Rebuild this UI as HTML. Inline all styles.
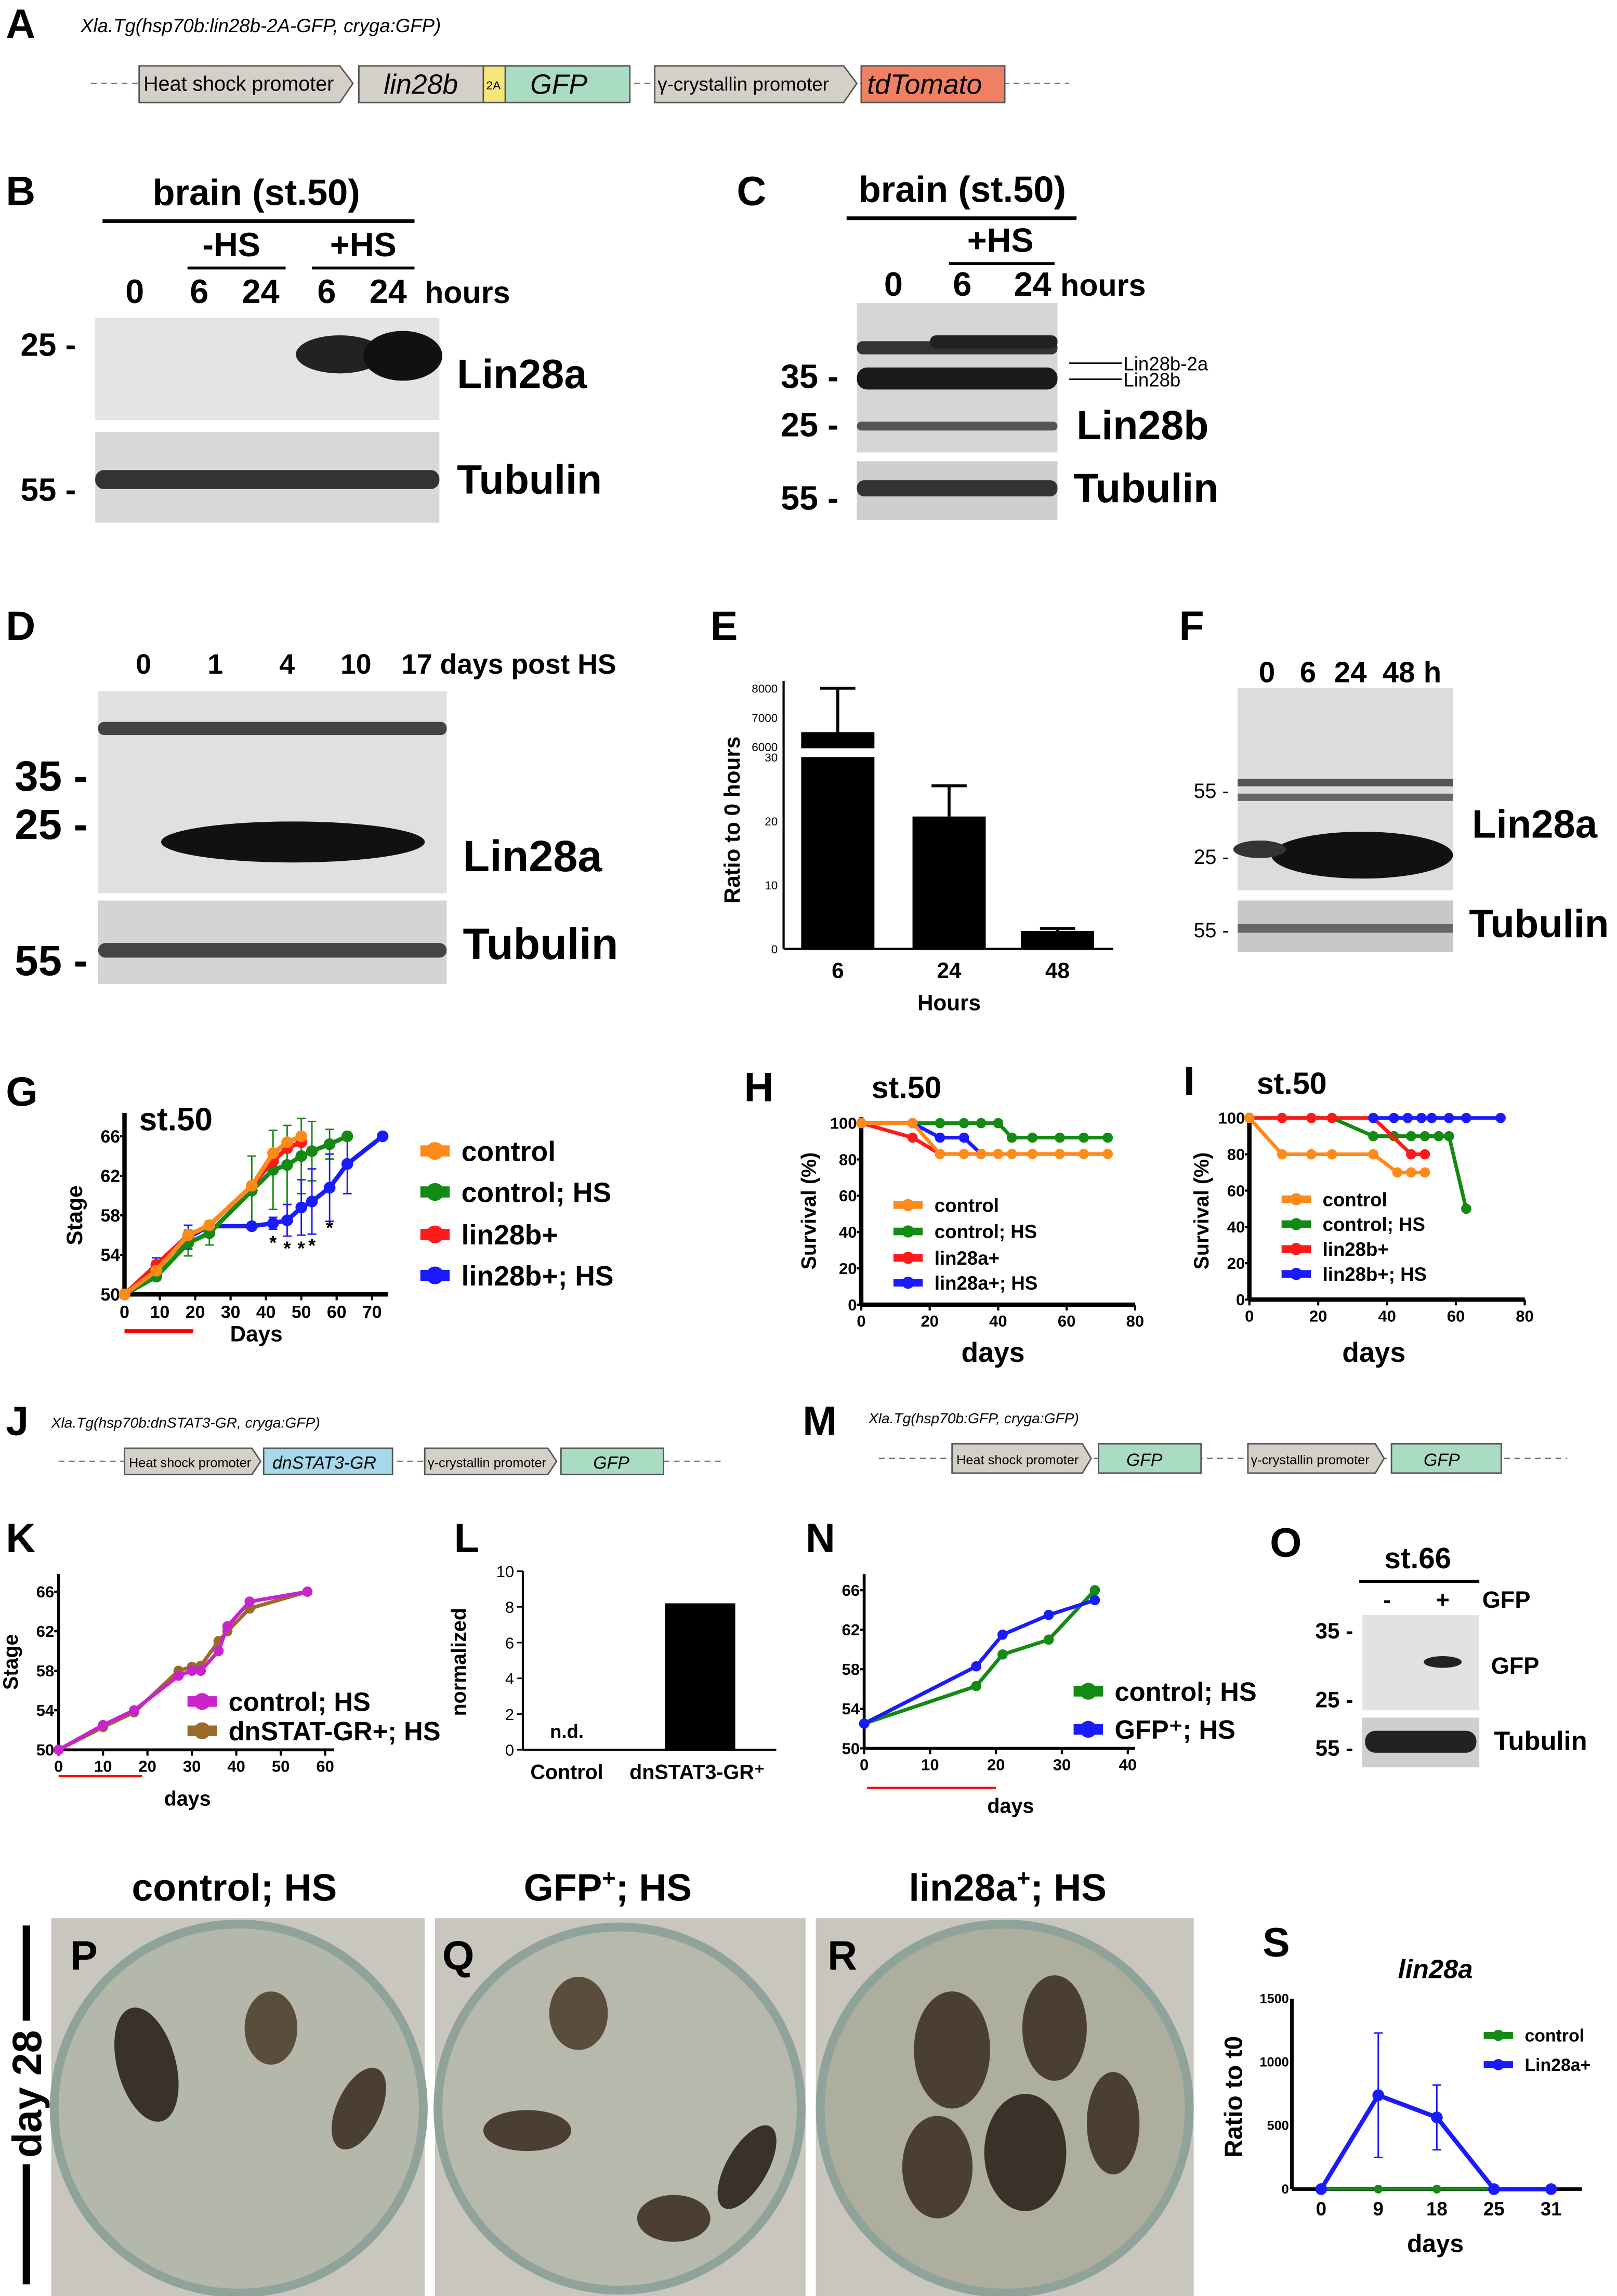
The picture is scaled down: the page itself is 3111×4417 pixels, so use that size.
<!DOCTYPE html>
<html><head><meta charset="utf-8">
<style>
html,body{margin:0;padding:0;background:#fff;}
svg{display:block;font-family:"Liberation Sans",Arial,sans-serif;}
.b{font-weight:bold;}
</style></head>
<body>
<svg id="fig" width="3111" height="4417" viewBox="0 0 1104 1568" preserveAspectRatio="none" xmlns="http://www.w3.org/2000/svg">
<g id="static">
<g class="b" font-size="28" fill="#000">
<text x="4" y="26">A</text><text x="4" y="140">B</text><text x="503" y="140">C</text>
<text x="4" y="437">D</text><text x="485" y="437">E</text><text x="805" y="437">F</text>
<text x="4" y="755">G</text><text x="508" y="752">H</text><text x="808" y="748">I</text>
<text x="4" y="980">J</text><text x="4" y="1060">K</text><text x="310" y="1060">L</text>
<text x="548" y="980">M</text><text x="550" y="1060">N</text><text x="867" y="1063">O</text>
<text x="862" y="1336">S</text>
</g>
<g>
<text x="55" y="22" font-size="13" font-style="italic">Xla.Tg(hsp70b:lin28b-2A-GFP, cryga:GFP)</text>
<line x1="62" y1="57" x2="730" y2="57" stroke="#777" stroke-dasharray="4,3"/>
<polygon points="95,45 232,45 241,57 232,70 95,70" fill="#d4d0c8" stroke="#555"/>
<text x="98" y="62" font-size="14">Heat shock promoter</text>
<rect x="245" y="45" width="85" height="25" fill="#d4d0c8" stroke="#555"/>
<text x="262" y="64" font-size="19" font-style="italic">lin28b</text>
<rect x="330" y="45" width="15" height="25" fill="#f6e67a" stroke="#555"/>
<text x="332" y="61" font-size="8">2A</text>
<rect x="345" y="45" width="85" height="25" fill="#a9dcc2" stroke="#555"/>
<text x="362" y="64" font-size="19" font-style="italic">GFP</text>
<polygon points="447,45 576,45 585,57 576,70 447,70" fill="#d4d0c8" stroke="#555"/>
<text x="449" y="62" font-size="13">γ-crystallin promoter</text>
<rect x="588" y="45" width="98" height="25" fill="#ef8064" stroke="#555"/>
<text x="592" y="64" font-size="19" font-style="italic">tdTomato</text>
</g>
<g class="b">
<text x="175" y="140" font-size="25" text-anchor="middle">brain (st.50)</text>
<line x1="70" y1="151" x2="283" y2="151" stroke="#000" stroke-width="2.5"/>
<text x="158" y="175" font-size="23" text-anchor="middle">-HS</text>
<line x1="128" y1="183" x2="195" y2="183" stroke="#000" stroke-width="2"/>
<text x="248" y="175" font-size="23" text-anchor="middle">+HS</text>
<line x1="213" y1="183" x2="283" y2="183" stroke="#000" stroke-width="2"/>
<g font-size="23" text-anchor="middle"><text x="92" y="207">0</text><text x="136" y="207">6</text><text x="178" y="207">24</text><text x="223" y="207">6</text><text x="265" y="207">24</text></g>
<text x="290" y="207" font-size="21">hours</text>
<rect x="65" y="217" width="235" height="70" fill="#e4e4e4"/>
<ellipse cx="232" cy="242" rx="30" ry="13" fill="#222"/><ellipse cx="275" cy="243" rx="27" ry="17" fill="#111"/>
<text x="14" y="243" font-size="22">25 -</text>
<text x="312" y="265" font-size="28">Lin28a</text>
<rect x="65" y="295" width="235" height="62" fill="#d8d8d8"/>
<rect x="65" y="321" width="235" height="13" rx="6" fill="#333"/>
<text x="14" y="342" font-size="22">55 -</text>
<text x="312" y="337" font-size="28">Tubulin</text>
</g>
<g class="b">
<text x="657" y="138" font-size="25" text-anchor="middle">brain (st.50)</text>
<line x1="578" y1="149" x2="735" y2="149" stroke="#000" stroke-width="2.5"/>
<text x="683" y="172" font-size="23" text-anchor="middle">+HS</text>
<line x1="648" y1="180" x2="720" y2="180" stroke="#000" stroke-width="2"/>
<g font-size="23" text-anchor="middle"><text x="610" y="202">0</text><text x="657" y="202">6</text><text x="705" y="202">24</text></g>
<text x="724" y="202" font-size="21">hours</text>
<rect x="585" y="207" width="137" height="102" fill="#d6d6d6"/>
<rect x="585" y="233" width="137" height="9" rx="4" fill="#333"/>
<rect x="635" y="229" width="87" height="9" rx="4" fill="#222"/>
<rect x="585" y="251" width="137" height="15" rx="7" fill="#1a1a1a"/>
<rect x="585" y="288" width="137" height="6" rx="3" fill="#555"/>
<text x="533" y="265" font-size="23">35 -</text><text x="533" y="298" font-size="23">25 -</text>
<line x1="730" y1="248" x2="766" y2="248" stroke="#000"/><line x1="730" y1="259" x2="766" y2="259" stroke="#000"/>
<text x="767" y="253" font-size="13" font-weight="normal">Lin28b-2a</text>
<text x="767" y="264" font-size="13" font-weight="normal">Lin28b</text>
<text x="735" y="300" font-size="28">Lin28b</text>
<rect x="585" y="315" width="137" height="40" fill="#cfcfcf"/>
<rect x="585" y="328" width="137" height="11" rx="5" fill="#333"/>
<text x="533" y="348" font-size="23">55 -</text>
<text x="733" y="343" font-size="28">Tubulin</text>
</g>
<g class="b">
<g font-size="19" text-anchor="middle"><text x="98" y="460">0</text><text x="147" y="460">1</text><text x="196" y="460">4</text><text x="243" y="460">10</text></g>
<text x="274" y="460" font-size="19">17 days post HS</text>
<rect x="67" y="472" width="238" height="138" fill="#e0e0e0"/>
<rect x="67" y="493" width="238" height="9" rx="4" fill="#444"/>
<ellipse cx="200" cy="575" rx="90" ry="14" fill="#111"/>
<text x="10" y="540" font-size="29">35 -</text><text x="10" y="573" font-size="29">25 -</text>
<text x="316" y="595" font-size="30">Lin28a</text>
<rect x="67" y="615" width="238" height="57" fill="#d4d4d4"/>
<rect x="67" y="644" width="238" height="10" rx="5" fill="#444"/>
<text x="10" y="666" font-size="29">55 -</text>
<text x="316" y="655" font-size="30">Tubulin</text>
</g>
<g class="b">
<g font-size="20" text-anchor="middle"><text x="865" y="466">0</text><text x="893" y="466">6</text><text x="922" y="466">24</text><text x="955" y="466">48</text><text x="978" y="466">h</text></g>
<rect x="845" y="470" width="147" height="138" fill="#dcdcdc"/>
<rect x="845" y="532" width="147" height="5" fill="#555"/><rect x="845" y="542" width="147" height="5" fill="#666"/>
<ellipse cx="930" cy="584" rx="62" ry="16" fill="#111"/><ellipse cx="860" cy="580" rx="18" ry="6" fill="#333"/>
<text x="815" y="545" font-size="14" font-weight="normal">55 -</text><text x="815" y="590" font-size="14" font-weight="normal">25 -</text>
<text x="1005" y="572" font-size="27">Lin28a</text>
<rect x="845" y="615" width="147" height="35" fill="#c8c8c8"/>
<rect x="845" y="631" width="147" height="6" fill="#666"/>
<text x="815" y="640" font-size="14" font-weight="normal">55 -</text>
<text x="1003" y="640" font-size="27">Tubulin</text>
</g>
<g>
<text x="35" y="975" font-size="10" font-style="italic">Xla.Tg(hsp70b:dnSTAT3-GR, cryga:GFP)</text>
<line x1="40" y1="998" x2="495" y2="998" stroke="#777" stroke-dasharray="4,3"/>
<polygon points="85,989 172,989 178,998 172,1007 85,1007" fill="#d4d0c8" stroke="#555"/>
<text x="88" y="1002" font-size="9">Heat shock promoter</text>
<rect x="180" y="989" width="88" height="18" fill="#a8d8ec" stroke="#555"/>
<text x="186" y="1003" font-size="12" font-style="italic">dnSTAT3-GR</text>
<polygon points="290,989 374,989 380,998 374,1007 290,1007" fill="#d4d0c8" stroke="#555"/>
<text x="292" y="1002" font-size="9">γ-crystallin promoter</text>
<rect x="383" y="989" width="70" height="18" fill="#a9dcc2" stroke="#555"/>
<text x="405" y="1003" font-size="12" font-style="italic">GFP</text>
</g>
<g>
<text x="593" y="972" font-size="10" font-style="italic">Xla.Tg(hsp70b:GFP, cryga:GFP)</text>
<line x1="600" y1="996" x2="1070" y2="996" stroke="#777" stroke-dasharray="4,3"/>
<polygon points="650,986 739,986 745,996 739,1006 650,1006" fill="#d4d0c8" stroke="#555"/>
<text x="653" y="1000" font-size="9">Heat shock promoter</text>
<rect x="750" y="986" width="70" height="20" fill="#a9dcc2" stroke="#555"/>
<text x="769" y="1001" font-size="12" font-style="italic">GFP</text>
<polygon points="852,986 939,986 945,996 939,1006 852,1006" fill="#d4d0c8" stroke="#555"/>
<text x="854" y="1000" font-size="9">γ-crystallin promoter</text>
<rect x="950" y="986" width="75" height="20" fill="#a9dcc2" stroke="#555"/>
<text x="972" y="1001" font-size="12" font-style="italic">GFP</text>
</g>
<g class="b">
<text x="968" y="1071" font-size="20" text-anchor="middle">st.66</text>
<line x1="928" y1="1080" x2="1010" y2="1080" stroke="#000" stroke-width="2"/>
<text x="947" y="1098" font-size="16" text-anchor="middle">-</text><text x="985" y="1098" font-size="16" text-anchor="middle">+</text>
<text x="1012" y="1098" font-size="16">GFP</text>
<rect x="930" y="1103" width="80" height="65" fill="#e2e2e2"/>
<ellipse cx="985" cy="1135" rx="13" ry="4" fill="#222"/>
<text x="898" y="1119" font-size="15">35 -</text><text x="898" y="1166" font-size="15">25 -</text>
<text x="1018" y="1143" font-size="16">GFP</text>
<rect x="930" y="1173" width="80" height="34" fill="#cfcfcf"/>
<rect x="932" y="1182" width="76" height="15" rx="7" fill="#222"/>
<text x="898" y="1199" font-size="15">55 -</text>
<text x="1020" y="1195" font-size="18">Tubulin</text>
</g>
<g class="b" font-size="26" text-anchor="middle">
<text x="160" y="1298">control; HS</text><text x="415" y="1298">GFP<tspan font-size="16" dy="-10">+</tspan><tspan dy="10">; HS</tspan></text><text x="688" y="1298">lin28a<tspan font-size="16" dy="-10">+</tspan><tspan dy="10">; HS</tspan></text>
</g>
<line x1="18" y1="1315" x2="18" y2="1380" stroke="#000" stroke-width="5"/>
<line x1="18" y1="1478" x2="18" y2="1560" stroke="#000" stroke-width="5"/>
<text transform="translate(28,1430) rotate(-90)" class="b" font-size="28" text-anchor="middle">day 28</text>
<g>
<rect x="35" y="1310" width="255" height="258" fill="#c9c7bd"/>
<circle cx="163" cy="1440" r="126" fill="#b4b8aa" stroke="#8fa39a" stroke-width="6"/>
<ellipse cx="100" cy="1410" rx="20" ry="40" fill="#3a3128" transform="rotate(-15 100 1410)"/>
<ellipse cx="185" cy="1385" rx="18" ry="25" fill="#5a4d3c"/>
<ellipse cx="245" cy="1440" rx="15" ry="30" fill="#4a3f32" transform="rotate(25 245 1440)"/>
<text x="48" y="1345" font-size="28" class="b" fill="#000">P</text>
</g>
<g>
<rect x="297" y="1310" width="253" height="258" fill="#c9c7bd"/>
<circle cx="423" cy="1440" r="124" fill="#b6b9ac" stroke="#8fa39a" stroke-width="6"/>
<ellipse cx="395" cy="1375" rx="20" ry="25" fill="#5a4d3c"/>
<ellipse cx="360" cy="1455" rx="30" ry="14" fill="#4a3f32"/>
<ellipse cx="460" cy="1515" rx="25" ry="16" fill="#4a3f32"/>
<ellipse cx="510" cy="1480" rx="14" ry="32" fill="#3a3128" transform="rotate(30 510 1480)"/>
<text x="302" y="1345" font-size="28" class="b">Q</text>
</g>
<g>
<rect x="557" y="1310" width="258" height="258" fill="#c9c7bd"/>
<circle cx="686" cy="1440" r="126" fill="#aeae9e" stroke="#8fa39a" stroke-width="6"/>
<ellipse cx="650" cy="1400" rx="26" ry="40" fill="#4a3f32"/>
<ellipse cx="720" cy="1385" rx="22" ry="36" fill="#4a3f32"/>
<ellipse cx="640" cy="1480" rx="24" ry="35" fill="#4a3f32"/>
<ellipse cx="700" cy="1470" rx="28" ry="40" fill="#3a3128"/>
<ellipse cx="760" cy="1450" rx="18" ry="35" fill="#4a3f32"/>
<text x="565" y="1345" font-size="28" class="b">R</text>
</g>
</g>
<g id="charts"></g>
</svg>
<script>
const eCats = ['6','24','48'];
const eVals = [6500, 20.7, 2.8];
const eErr = [8000, 25.5, 3.2];
const gDaysCtrl = [0,9,18,24,36,42,46,50];
const gCtrl = [50,52.4,56,57,61,64.3,65.4,66];
const gDaysCtrlHS = [0,9,18,24,36,42,46,50,53,58,63];
const gCtrlHS = [50,51.8,55.2,56.2,60.5,62.6,63.1,64,64.5,65.2,66];
const gDaysLin = [0,9,18,24,36,42,46,50];
const gLin = [50,53,56,57,61,63.5,64.8,65.4];
const gDaysLinHS = [0,9,18,24,36,42,46,50,53,58,63,73];
const gLinHS = [50,52.6,55.8,56.9,56.9,57.2,57.5,58.8,59.4,60.8,63.2,66];
const gErrCtrlHS = [0,0.4,1.3,1.2,3.5,4,4,3.8,3,1.5,0];
const gErrLinHS = [0,1.1,1.2,0.5,0.2,0.6,1.6,2.8,3.3,3.4,3,0];
const gTicksX = [0,10,20,30,40,50,60,70];
const gTicksY = [50,54,58,62,66];
const hDays = [0,15,23,30,35,40,44,50,58,65,72];
const hCtrl = [100,100,83,83,83,83,83,83,83,83,83];
const hCtrlHS = [100,100,100,100,100,100,92,92,92,92,92];
const hDaysLin = [0,15,23];
const hLin = [100,92,83];
const hDaysLinHS = [0,15,23,30,35];
const hLinHS = [100,100,92,92,83];
const iDaysCtrl = [0,9.5,18,24,36,43,47,51];
const iCtrl = [100,80,80,80,80,70,70,70];
const iDaysCtrlHS = [0,9.5,18,24,36,42,47,51,55,58,63];
const iCtrlHS = [100,100,100,100,90,90,90,90,90,90,50];
const iDaysLin = [0,9.5,18,24,36,47,51];
const iLin = [100,100,100,100,100,80,80];
const iDaysLinHS = [36,42,46,50,53,58,63,73];
const iLinHS = [100,100,100,100,100,100,100,100];
const survTicksX = [0,20,40,60,80];
const survTicksY = [0,20,40,60,80,100];
const kDays = [0,10,17,27,30,32,36,38,43,56];
const kCtrlHS = [50,52.5,54,57.5,58,58,60,62.5,65,66];
const kDnStat = [50,52.3,53.8,58,58.4,58.5,61,62,64.3,66];
const kTicksX = [0,10,20,30,40,50,60];
const lCats = ['Control','dnSTAT3-GR+'];
const lVals = [0, 8.2];
const lTicks = [0,2,4,6,8,10];
const nDays = [0,17,21,28,35];
const nCtrlHS = [52.5,56.3,59.5,61,66];
const nGfpHS = [52.5,58.3,61.5,63.5,65];
const nTicksX = [0,10,20,30,40];
const sCats = ['0','9','18','25','31'];
const sCtrl = [0,0,0,0,0];
const sLin = [0,740,565,0,0];
const sErr = [0,490,255,0,0];
const sTicks = [0,500,1000,1500];

const NS = 'http://www.w3.org/2000/svg';
const root = document.getElementById('charts');
function el(tag, attrs, parent, txt){
  const e = document.createElementNS(NS, tag);
  for (const k in attrs) e.setAttribute(k, attrs[k]);
  if (txt !== undefined) e.textContent = txt;
  (parent||root).appendChild(e);
  return e;
}
function grp(name){
  const g = document.createElementNS(NS,'g');
  
  
  root.appendChild(g);
  return g;
}
function lin(d0,d1,p0,p1){ return v => p0 + (v-d0)/(d1-d0)*(p1-p0); }
function series(g, name, xs, ys, sx, sy, color, w, r){
  const s = document.createElementNS(NS,'g');
  
  
  g.appendChild(s);
  const pts = xs.map((x,i)=>sx(x).toFixed(1)+','+sy(ys[i]).toFixed(1)).join(' ');
  el('polyline',{points:pts,fill:'none',stroke:color,'stroke-width':w,'stroke-linejoin':'round'},s);
  xs.forEach((x,i)=>{ el('circle',{cx:sx(x),cy:sy(ys[i]),r:r,fill:color},s); });
}
function errs(g, xs, ys, es, sx, sy, color){
  xs.forEach((x,i)=>{ if(!es[i]) return;
    const X=sx(x), y1=sy(ys[i]-es[i]), y2=sy(ys[i]+es[i]);
    el('line',{x1:X,y1:y1,x2:X,y2:y2,stroke:color,'stroke-width':1},g);
    el('line',{x1:X-3,y1:y1,x2:X+3,y2:y1,stroke:color,'stroke-width':1},g);
    el('line',{x1:X-3,y1:y2,x2:X+3,y2:y2,stroke:color,'stroke-width':1},g);
  });
}
function axes(g, x0,x1,y0,y1, sx, sy, tx, ty, fs, aw){
  el('line',{x1:x0,y1:y0,x2:x0,y2:y1,stroke:'#000','stroke-width':aw},g);
  el('line',{x1:x0,y1:y0,x2:x1,y2:y0,stroke:'#000','stroke-width':aw},g);
  tx.forEach(t=>{ el('line',{x1:sx(t),y1:y0,x2:sx(t),y2:y0+4,stroke:'#000','stroke-width':1.5},g);
    el('text',{x:sx(t),y:y0+fs+4,'font-size':fs,'text-anchor':'middle','font-weight':'bold'},g,String(t)); });
  ty.forEach(t=>{ el('line',{x1:x0-3,y1:sy(t),x2:x0,y2:sy(t),stroke:'#000','stroke-width':1.5},g);
    el('text',{x:x0-3,y:sy(t)+fs*0.35,'font-size':fs,'text-anchor':'end','font-weight':'bold'},g,String(t)); });
}
function legend(g, x, ys, labels, colors, fs){
  labels.forEach((l,i)=>{
    el('line',{x1:x,y1:ys[i],x2:x+20,y2:ys[i],stroke:colors[i],'stroke-width':fs*0.4},g);
    el('circle',{cx:x+10,cy:ys[i],r:fs*0.32,fill:colors[i]},g);
    el('text',{x:x+28,y:ys[i]+fs*0.36,'font-size':fs,'font-weight':'bold'},g,l);
  });
}
function rotText(g,x,y,t,fs){
  el('text',{transform:`translate(${x},${y}) rotate(-90)`,'font-size':fs,'text-anchor':'middle','font-weight':'bold'},g,t);
}
const OR='#ff8a1a', GR='#138a13', RD='#ff1a1a', BL='#1a1aff', MG='#cc22cc', BR='#9a6a2a';

(function(){
  const g = grp('chart-e');
  const yLow = lin(0,30,648,517), yHigh = lin(6000,8000,510,470);
  const ye = v => v>30 ? yHigh(v) : yLow(v);
  const xc = [572,648,722];
  el('line',{x1:535,y1:465,x2:535,y2:648,stroke:'#000','stroke-width':1.5},g);
  el('line',{x1:535,y1:648,x2:760,y2:648,stroke:'#000','stroke-width':1.5},g);
  [0,10,20,30].forEach(t=>{ el('text',{x:531,y:yLow(t)+3,'font-size':8,'text-anchor':'end'},g,String(t)); });
  [6000,7000,8000].forEach(t=>{ el('text',{x:531,y:yHigh(t)+3,'font-size':8,'text-anchor':'end'},g,String(t)); });
  eVals.forEach((v,i)=>{
    const b = el('rect',{x:xc[i]-25,y:ye(v),width:50,height:648-ye(v),fill:'#000'},g);
    
    
    el('line',{x1:xc[i],y1:ye(v),x2:xc[i],y2:ye(eErr[i]),stroke:'#000','stroke-width':2},g);
    el('line',{x1:xc[i]-12,y1:ye(eErr[i]),x2:xc[i]+12,y2:ye(eErr[i]),stroke:'#000','stroke-width':2},g);
    el('text',{x:xc[i],y:668,'font-size':15,'text-anchor':'middle','font-weight':'bold'},g,eCats[i]);
  });
  el('rect',{x:540,y:511,width:65,height:6,fill:'#fff'},g);
  el('text',{x:648,y:690,'font-size':15,'text-anchor':'middle','font-weight':'bold'},g,'Hours');
  rotText(g,505,560,'Ratio to 0 hours',15);
})();

(function(){
  const g = grp('chart-g');
  const sx = lin(0,70,85,254), sy = lin(50,66,884,776);
  errs(g,gDaysCtrlHS,gCtrlHS,gErrCtrlHS,sx,sy,GR);
  errs(g,gDaysLinHS,gLinHS,gErrLinHS,sx,sy,BL);
  axes(g,85,265,884,760,sx,sy,gTicksX,gTicksY,12,3);
  series(g,'series-lin28b-hs',gDaysLinHS,gLinHS,sx,sy,BL,3,4);
  series(g,'series-control-hs',gDaysCtrlHS,gCtrlHS,sx,sy,GR,3,4);
  series(g,'series-lin28b',gDaysLin,gLin,sx,sy,RD,3,4);
  series(g,'series-control',gDaysCtrl,gCtrl,sx,sy,OR,3,4);
  [42,46,50,53,58].forEach((d,i)=>{ el('text',{x:sx(d),y:[853,857,857,855,843][i],'font-size':13,'text-anchor':'middle','font-weight':'bold'},g,'*'); });
  el('text',{x:95,y:772,'font-size':22,'font-weight':'bold'},g,'st.50');
  rotText(g,56,830,'Stage',15);
  el('text',{x:175,y:916,'font-size':15,'text-anchor':'middle','font-weight':'bold'},g,'Days');
  el('line',{x1:85,y1:909,x2:132,y2:909,stroke:'#f00','stroke-width':2.5},g);
  legend(g,287,[786,814,843,871],['control','control; HS','lin28b+','lin28b+; HS'],[OR,GR,RD,BL],19);
})();

(function(){
  const g = grp('chart-h');
  const sx = lin(0,80,588,775), sy = lin(0,100,891,767);
  axes(g,588,775,891,763,sx,sy,survTicksX,survTicksY,11,3);
  series(g,'series-control-hs',hDays,hCtrlHS,sx,sy,GR,2.5,3.5);
  series(g,'series-lin28a',hDaysLin,hLin,sx,sy,RD,2.5,3.5);
  series(g,'series-lin28a-hs',hDaysLinHS,hLinHS,sx,sy,BL,2.5,3.5);
  series(g,'series-control',hDays,hCtrl,sx,sy,OR,2.5,3.5);
  el('text',{x:595,y:750,'font-size':21,'font-weight':'bold'},g,'st.50');
  rotText(g,557,827,'Survival (%)',14);
  el('text',{x:678,y:930,'font-size':19,'text-anchor':'middle','font-weight':'bold'},g,'days');
  legend(g,610,[823,841,859,876],['control','control; HS','lin28a+','lin28a+; HS'],[OR,GR,RD,BL],13);
})();

(function(){
  const g = grp('chart-i');
  const sx = lin(0,80,853,1041), sy = lin(0,100,887.5,763.5);
  axes(g,853,1041,887.5,760,sx,sy,survTicksX,survTicksY,11,3);
  series(g,'series-control-hs',iDaysCtrlHS,iCtrlHS,sx,sy,GR,2.5,3.5);
  series(g,'series-lin28b',iDaysLin,iLin,sx,sy,RD,2.5,3.5);
  series(g,'series-lin28b-hs',iDaysLinHS,iLinHS,sx,sy,BL,2.5,3.5);
  series(g,'series-control',iDaysCtrl,iCtrl,sx,sy,OR,2.5,3.5);
  el('text',{x:858,y:747,'font-size':21,'font-weight':'bold'},g,'st.50');
  rotText(g,825,827,'Survival (%)',14);
  el('text',{x:938,y:930,'font-size':19,'text-anchor':'middle','font-weight':'bold'},g,'days');
  legend(g,875,[819,836,853,870],['control','control; HS','lin28b+','lin28b+; HS'],[OR,GR,RD,BL],13);
})();

(function(){
  const g = grp('chart-k');
  const sx = lin(0,60,40,222), sy = lin(50,66,1195,1087);
  axes(g,40,228,1195,1075,sx,sy,kTicksX,gTicksY,11,2);
  series(g,'series-dnstat-gr-hs',kDays,kDnStat,sx,sy,BR,2.5,3.5);
  series(g,'series-control-hs',kDays,kCtrlHS,sx,sy,MG,2.5,3.5);
  rotText(g,12,1135,'Stage',14);
  el('text',{x:128,y:1233,'font-size':14,'text-anchor':'middle','font-weight':'bold'},g,'days');
  el('line',{x1:40,y1:1213,x2:97,y2:1213,stroke:'#f00','stroke-width':1.5},g);
  legend(g,128,[1162,1182],['control; HS','dnSTAT-GR+; HS'],[MG,BR],18);
})();

(function(){
  const g = grp('chart-l');
  const sy = lin(0,10,1195,1073);
  el('line',{x1:357,y1:1073,x2:357,y2:1195,stroke:'#000','stroke-width':1.5},g);
  el('line',{x1:357,y1:1195,x2:530,y2:1195,stroke:'#000','stroke-width':1.5},g);
  lTicks.forEach(t=>{ el('line',{x1:353,y1:sy(t),x2:357,y2:sy(t),stroke:'#000'},g);
    el('text',{x:351,y:sy(t)+4,'font-size':11,'text-anchor':'end'},g,String(t)); });
  const xc=[387,478];
  lVals.forEach((v,i)=>{
    const b = el('rect',{x:xc[i]-24,y:sy(v),width:48,height:1195-sy(v),fill:'#000'},g);
    
    
  });
  el('text',{x:387,y:1187,'font-size':13,'text-anchor':'middle','font-weight':'bold'},g,'n.d.');
  el('text',{x:387,y:1215,'font-size':14,'text-anchor':'middle','font-weight':'bold'},g,'Control');
  el('text',{x:476,y:1215,'font-size':14,'text-anchor':'middle','font-weight':'bold'},g,'dnSTAT3-GR⁺');
  rotText(g,318,1135,'normalized',14);
})();

(function(){
  const g = grp('chart-n');
  const sx = lin(0,40,590,770), sy = lin(50,66,1194,1086);
  axes(g,590,775,1194,1075,sx,sy,nTicksX,gTicksY,11,2);
  series(g,'series-control-hs',nDays,nCtrlHS,sx,sy,GR,2.5,3.5);
  series(g,'series-gfp-hs',nDays,nGfpHS,sx,sy,BL,2.5,3.5);
  el('text',{x:690,y:1238,'font-size':14,'text-anchor':'middle','font-weight':'bold'},g,'days');
  el('line',{x1:592,y1:1221,x2:680,y2:1221,stroke:'#f00','stroke-width':1.5},g);
  legend(g,733,[1155,1181],['control; HS','GFP⁺; HS'],[GR,BL],18);
})();

(function(){
  const g = grp('chart-s');
  const xc=[902,941,981,1020,1059];
  const sx = i => xc[i], sy = lin(0,1500,1495,1365);
  el('line',{x1:882,y1:1365,x2:882,y2:1495,stroke:'#000','stroke-width':2.5},g);
  el('line',{x1:882,y1:1495,x2:1080,y2:1495,stroke:'#000','stroke-width':2.5},g);
  sTicks.forEach(t=>{ el('text',{x:880,y:sy(t)+3,'font-size':9,'text-anchor':'end','font-weight':'bold'},g,String(t)); });
  sCats.forEach((c,i)=>{ el('text',{x:xc[i],y:1513,'font-size':13,'text-anchor':'middle','font-weight':'bold'},g,c); });
  const idx = sCats.map((c,i)=>i);
  errs(g,idx,sLin,sErr,sx,sy,BL);
  series(g,'series-control',idx,sCtrl,sx,sy,GR,2,3);
  series(g,'series-lin28a',idx,sLin,sx,sy,BL,3,4);
  el('text',{x:980,y:1351,'font-size':18,'text-anchor':'middle','font-weight':'bold','font-style':'italic'},g,'lin28a');
  rotText(g,848,1432,'Ratio to t0',17);
  el('text',{x:980,y:1538,'font-size':17,'text-anchor':'middle','font-weight':'bold'},g,'days');
  legend(g,1013,[1390,1410],['control','Lin28a+'],[GR,BL],12);
})();
</script>
</body></html>
